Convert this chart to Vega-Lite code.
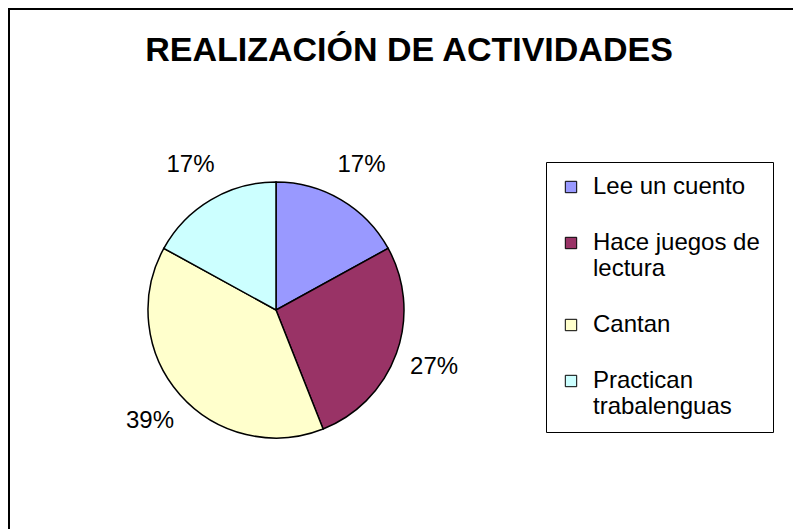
{
  "$schema": "https://vega.github.io/schema/vega-lite/v6.json",
  "width": 800,
  "height": 560,
  "autosize": {"type": "none"},
  "padding": {"left": 9, "top": 9, "right": 0, "bottom": 0},
  "background": "white",
  "view": {"stroke": "black", "strokeWidth": 2, "fill": "white"},
  "title": {
    "text": "REALIZACIÓN DE ACTIVIDADES",
    "font": "Liberation Sans",
    "fontSize": 34,
    "fontWeight": "bold",
    "color": "black",
    "anchor": "middle",
    "offset": -59
  },
  "config": {
    "font": "Liberation Sans"
  },
  "data": {
    "values": [
      {"actividad": "Lee un cuento", "valor": 17, "etiqueta": "17%", "orden": 1},
      {"actividad": "Hace juegos de lectura", "valor": 27, "etiqueta": "27%", "orden": 2},
      {"actividad": "Cantan", "valor": 39, "etiqueta": "39%", "orden": 3},
      {"actividad": "Practican trabalenguas", "valor": 17, "etiqueta": "17%", "orden": 4}
    ]
  },
  "encoding": {
    "theta": {"field": "valor", "type": "quantitative", "stack": true},
    "order": {"field": "orden", "type": "quantitative"}
  },
  "layer": [
    {
      "mark": {"type": "arc", "radius": 128, "x": 267, "y": 301, "stroke": "black", "strokeWidth": 1.5},
      "encoding": {
        "color": {
          "field": "actividad",
          "type": "nominal",
          "scale": {
            "domain": ["Lee un cuento", "Hace juegos de lectura", "Cantan", "Practican trabalenguas"],
            "range": ["#9999FF", "#993366", "#FFFFCC", "#CCFFFF"]
          },
          "legend": {
            "title": null,
            "orient": "none",
            "legendX": 537,
            "legendY": 153,
            "direction": "vertical",
            "strokeColor": "black",
            "fillColor": "white",
            "padding": 13,
            "labelFont": "Liberation Sans",
            "labelFontSize": 24,
            "labelLineHeight": 29,
            "labelColor": "black",
            "labelLimit": 400,
            "labelOffset": 10,
            "symbolType": "square",
            "symbolSize": 130,
            "symbolStrokeColor": "black",
            "symbolStrokeWidth": 1,
            "rowPadding": 32,
            "labelExpr": "datum.label == 'Hace juegos de lectura' ? ['Hace juegos de', 'lectura'] : datum.label == 'Practican trabalenguas' ? ['Practican', 'trabalenguas'] : datum.label"
          }
        }
      }
    },
    {
      "mark": {"type": "text", "radius": 168, "x": 267, "y": 301, "fontSize": 24, "font": "Liberation Sans", "color": "black"},
      "encoding": {
        "text": {"field": "etiqueta", "type": "nominal"}
      }
    }
  ]
}
